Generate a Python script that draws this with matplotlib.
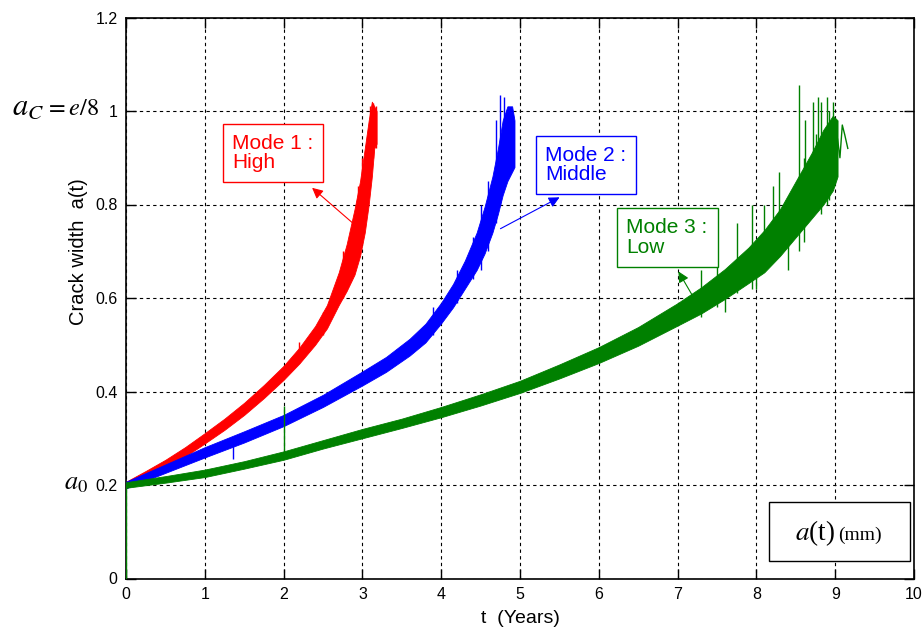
import numpy as np
import matplotlib.pyplot as plt
from matplotlib.patches import Rectangle

plt.rcParams['font.family'] = ['Liberation Sans', 'DejaVu Sans']
plt.rcParams['mathtext.fontset'] = 'stix'

# Mode 1 (high) - lower / upper envelope of the noisy trace
t_high = [0.0, 0.25, 0.5, 0.75, 1.0, 1.25, 1.5, 1.75, 2.0, 2.2, 2.4, 2.55, 2.7,
          2.8, 2.9, 2.97, 3.03, 3.08, 3.12, 3.15, 3.18]
lo_high = [0.193, 0.214, 0.236, 0.261, 0.289, 0.318, 0.350, 0.386, 0.425, 0.460,
           0.50, 0.535, 0.585, 0.615, 0.65, 0.69, 0.74, 0.80, 0.86, 0.92, 0.93]
hi_high = [0.207, 0.230, 0.254, 0.281, 0.311, 0.342, 0.376, 0.414, 0.455, 0.494,
           0.54, 0.585, 0.655, 0.715, 0.79, 0.85, 0.92, 0.98, 1.02, 1.01, 1.0]

# Mode 2 (middle)
t_mid = [0.0, 0.5, 1.0, 1.5, 2.0, 2.5, 3.0, 3.3, 3.6, 3.8, 4.0, 4.15, 4.3,
         4.45, 4.55, 4.65, 4.72, 4.78, 4.84, 4.9, 4.93]
lo_mid = [0.193, 0.226, 0.259, 0.291, 0.326, 0.367, 0.413, 0.442, 0.477, 0.505,
          0.546, 0.58, 0.62, 0.66, 0.695, 0.74, 0.78, 0.82, 0.85, 0.87, 0.88]
hi_mid = [0.207, 0.244, 0.281, 0.315, 0.350, 0.393, 0.443, 0.474, 0.513, 0.545,
          0.590, 0.63, 0.68, 0.74, 0.795, 0.86, 0.92, 0.98, 1.01, 1.01, 0.98]

# Mode 3 (low)
t_low = [0.0, 0.5, 1.0, 1.5, 2.0, 2.5, 3.0, 3.5, 4.0, 4.5, 5.0, 5.5, 6.0, 6.5,
         7.0, 7.3, 7.6, 7.9, 8.1, 8.3, 8.5, 8.7, 8.85, 8.97, 9.03]
lo_low = [0.194, 0.205, 0.217, 0.235, 0.254, 0.278, 0.30, 0.322, 0.345, 0.37,
          0.397, 0.428, 0.461, 0.498, 0.541, 0.567, 0.598, 0.632, 0.655, 0.69,
          0.73, 0.77, 0.80, 0.83, 0.86]
hi_low = [0.206, 0.219, 0.233, 0.251, 0.272, 0.296, 0.32, 0.342, 0.367, 0.394,
          0.423, 0.458, 0.495, 0.538, 0.589, 0.623, 0.662, 0.708, 0.745, 0.79,
          0.85, 0.91, 0.96, 0.99, 0.98]
tail_t_low = [9.03, 9.06, 9.09, 9.12, 9.16]
tail_a_low = [0.94, 0.90, 0.97, 0.95, 0.92]

# isolated spikes (t, bottom, top)
spk_high = [(2.2, 0.46, 0.505), (2.5, 0.52, 0.57), (2.75, 0.60, 0.70),
            (2.95, 0.70, 0.84), (3.0, 0.74, 0.90), (3.1, 0.86, 1.01),
            (3.14, 0.90, 1.018), (3.17, 0.92, 1.01)]
spk_mid = [(1.36, 0.255, 0.29), (3.9, 0.52, 0.58), (4.2, 0.59, 0.66),
           (4.4, 0.64, 0.73), (4.5, 0.66, 0.80), (4.6, 0.70, 0.85),
           (4.7, 0.76, 0.98), (4.75, 0.80, 1.034), (4.8, 0.84, 1.03),
           (4.87, 0.88, 0.99)]
spk_low = [(0.0, 0.0, 0.2), (2.01, 0.27, 0.37), (7.3, 0.56, 0.66),
           (7.5, 0.58, 0.69), (7.6, 0.57, 0.65), (7.75, 0.61, 0.76),
           (7.95, 0.62, 0.80), (8.0, 0.62, 0.72), (8.1, 0.66, 0.80),
           (8.21, 0.68, 0.84), (8.29, 0.70, 0.87), (8.4, 0.66, 0.80),
           (8.54, 0.70, 1.055), (8.6, 0.72, 0.90), (8.62, 0.76, 0.98),
           (8.72, 0.78, 1.02), (8.75, 0.79, 0.95), (8.78, 0.795, 1.03),
           (8.82, 0.78, 1.02), (8.89, 0.80, 1.03), (8.92, 0.81, 1.0),
           (8.97, 0.86, 1.02)]

red, blue, green = '#ff0000', '#0000ff', '#008000'

fig = plt.figure(figsize=(9.24, 6.31), dpi=100)
ax = fig.add_axes([126 / 924, 52.5 / 631, 788 / 924, 561 / 631])

for t, lo, hi, spk, col, z in [(t_high, lo_high, hi_high, spk_high, red, 2),
                               (t_mid, lo_mid, hi_mid, spk_mid, blue, 3),
                               (t_low, lo_low, hi_low, spk_low, green, 4)]:
    ax.fill_between(t, lo, hi, color=col, lw=0.6, edgecolor=col, zorder=z)
    s = np.array(spk)
    ax.vlines(s[:, 0], s[:, 1], s[:, 2], color=col, lw=1.0, zorder=z)
ax.plot(tail_t_low, tail_a_low, color=green, lw=1.0, zorder=4)

ax.set_xlim(0, 10)
ax.set_ylim(0, 1.2)
ax.set_xticks(range(11))
ax.set_yticks([0, 0.2, 0.4, 0.6, 0.8, 1.0, 1.2])
ax.set_yticklabels(['0', '0.2', '0.4', '0.6', '0.8', '1', '1.2'])
ax.tick_params(direction='in', top=True, right=True, length=7, width=1,
               labelsize=11.5, pad=6)
ax.grid(True, color='black', linestyle=(0, (3, 3)), lw=0.8)
for sp in ax.spines.values():
    sp.set_linewidth(1.2)
ax.set_xlabel('t  (Years)', fontsize=14, labelpad=6)
ax.set_ylabel('Crack width  a(t)', fontsize=14.5)
ax.yaxis.set_label_coords(-0.048, 0.582)


def px(x, y):
    # pixel position in the picture -> data coordinates
    return (x - 126) / 78.8, (578.5 - y) / 467.5


boxes = [('Mode 1 :\nHigh', red, (223, 124, 323, 182), (355, 225), (310, 186)),
         ('Mode 2 :\nMiddle', blue, (536, 136, 636, 194), (498, 230), (562, 196)),
         ('Mode 3 :\nLow', green, (617, 208, 718, 267), (695, 300), (677, 269))]
for txt, col, (x0, y0, x1, y1), tail, head in boxes:
    bx0, by1 = px(x0, y1)
    bx1, by0 = px(x1, y0)
    ax.add_patch(Rectangle((bx0, by1), bx1 - bx0, by0 - by1, fill=True,
                           facecolor='white', edgecolor=col, lw=1.0, zorder=6))
    ax.text(px(x0 + 9, 0)[0], (by0 + by1) / 2, txt, color=col, fontsize=15,
            ha='left', va='center', linespacing=1.05, zorder=7)
    ax.annotate('', xy=px(*head), xytext=px(*tail),
                arrowprops=dict(arrowstyle='-|>', color=col, lw=0.8,
                                mutation_scale=16), zorder=7)

# unit box
bx0, by1 = px(769, 561)
bx1, by0 = px(910, 502)
ax.add_patch(Rectangle((bx0, by1), bx1 - bx0, by0 - by1, facecolor='white',
                       edgecolor='black', lw=1.0, zorder=6))
ax.text(*px(795, 540), r'$a$(t)', fontsize=19.5, family='Liberation Serif',
        ha='left', va='baseline', zorder=7)
ax.text(*px(838, 540), '(mm)', fontsize=14, family='Liberation Serif',
        ha='left', va='baseline', zorder=7)

# left-hand markers
fig.text(12 / 924, 1 - 115 / 631, r'$a_C$', fontsize=22, ha='left', va='baseline')
fig.text(45 / 924, 1 - 115 / 631, r'$= \mathit{e/8}$', fontsize=17.5,
         ha='left', va='baseline')
fig.text(64 / 924, 1 - 489 / 631, r'$a_0$', fontsize=19, ha='left', va='baseline')

fig.savefig('out.png', dpi=100, facecolor='white')
